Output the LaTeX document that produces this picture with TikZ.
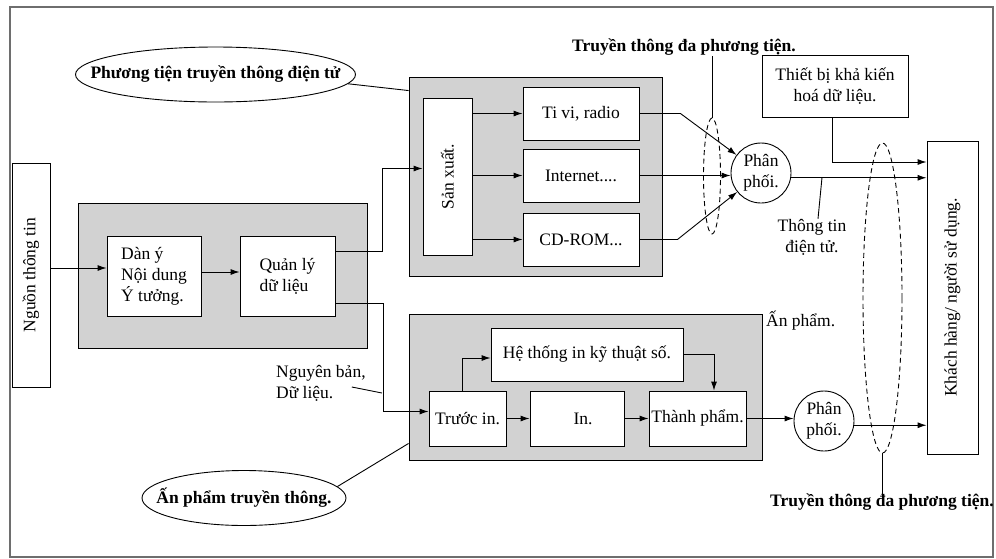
\documentclass[tikz,border=0pt]{standalone}
\usepackage{fontspec}
\setmainfont{Liberation Serif}
\usetikzlibrary{arrows.meta}
\usetikzlibrary{shapes.geometric}
\definecolor{framegray}{RGB}{110,110,110}
\definecolor{panelgray}{RGB}{210,210,210}

\begin{document}
\begin{tikzpicture}[x=1pt,y=-1pt,font=\fontsize{17.5}{21}\selectfont]
    \tikzstyle{wire}=[draw=black,line width=0.9pt,-]
    \tikzstyle{flow}=[wire,-{Latex[length=9pt,width=6pt]}]
    \tikzstyle{box}=[rectangle,draw=black,line width=0.9pt,fill=white,inner sep=0pt]
    \tikzstyle{panel}=[rectangle,draw=black,line width=0.9pt,fill=panelgray,inner sep=0pt]
    \tikzstyle{hub}=[circle,draw=black,line width=0.9pt,fill=white,minimum size=60pt,inner sep=0pt,align=center]
    \tikzstyle{tag}=[ellipse,draw=black,line width=0.9pt,fill=white,inner sep=0pt]
    \tikzstyle{group}=[ellipse,draw=black,line width=0.9pt,dash pattern=on 5pt off 3.5pt,inner sep=0pt]
    \tikzstyle{note}=[inner sep=0pt]

    \useasboundingbox (0,0) rectangle (996,558);
    \draw[line width=1.5pt,draw=framegray] (10,7) rectangle (993,557);

    % gray panels
    \node[panel,minimum width=289pt,minimum height=145pt] (prep)  at (222.5,275.5) {};
    \node[panel,minimum width=253pt,minimum height=199pt] (media) at (535.5,176.5) {};
    \node[panel,minimum width=353pt,minimum height=146pt] (print) at (585.5,387) {};

    % boxes
    \node[box,minimum width=38pt,minimum height=224pt] (nguon) at (31,275) {\rotatebox{90}{Nguồn thông tin}};
    \node[box,minimum width=94pt,minimum height=80pt,align=left] (danY)   at (154,276)   {Dàn ý\\Nội dung\\Ý tưởng.};
    \node[box,minimum width=95pt,minimum height=80pt,align=left] (quanLy) at (287.5,276) {Quản lý\\dữ liệu};

    \node[box,minimum width=49pt,minimum height=157pt]  (sanXuat)  at (447.5,176.5) {\rotatebox{90}{Sản xuất.}};
    \node[box,minimum width=116pt,minimum height=53pt]  (tivi)     at (581,113.5)   {Ti vi, radio};
    \node[box,minimum width=116pt,minimum height=53pt]  (internet) at (581,175.5)   {Internet....};
    \node[box,minimum width=116pt,minimum height=53pt]  (cdrom)    at (581,239.5)   {CD-ROM...};

    \node[hub] (phanPhoiA) at (761,173) {Phân\\phối.};
    \node[box,minimum width=146pt,minimum height=62pt,align=center] (thietBi) at (835,86) {Thiết bị khả kiến\\hoá dữ liệu.};
    \node[box,minimum width=51pt,minimum height=313pt] (khach) at (952.5,297.5) {\rotatebox{90}{Khách hàng/ người sử dụng.}};

    \node[box,minimum width=192pt,minimum height=53pt] (heThong)   at (587,354.5)   {Hệ thống in kỹ thuật số.};
    \node[box,minimum width=77pt,minimum height=55pt]  (truocIn)   at (467.5,418.5) {Trước in.};
    \node[box,minimum width=94pt,minimum height=55pt]  (inBox)     at (577,418.5)   {\hspace*{12pt}In.};
    \node[box,minimum width=97pt,minimum height=55pt]  (thanhPham) at (697.5,418.5) {Thành phẩm.};
    \node[hub] (phanPhoiB) at (824,421) {Phân\\phối.};

    % dashed groups and tags
    \node[group,minimum width=17pt,minimum height=116pt] (multiA) at (712,176) {};
    \node[group,minimum width=39pt,minimum height=310pt] (multiB) at (882.5,298) {};
    \node[note,font=\fontsize{17.5}{21}\selectfont\bfseries] (multiAText) at (684,47)  {Truyền thông đa phương tiện.};
    \node[note,font=\fontsize{17.5}{21}\selectfont\bfseries] (multiBText) at (882,502) {Truyền thông đa phương tiện.};

    \node[tag,minimum width=280pt,minimum height=55pt] (mediaTag) at (215.5,74.5) {\makebox[0pt]{\bfseries Phương tiện truyền thông điện tử}};
    \node[tag,minimum width=204pt,minimum height=55pt] (printTag) at (244,498)    {\makebox[0pt]{\bfseries Ấn phẩm truyền thông.}};

    \node[note,align=center]       (infoText)  at (812,237) {Thông tin\\điện tử.};
    \node[note,anchor=west]        (printText) at (766,321) {Ấn phẩm.};
    \node[note,anchor=west,align=left] (srcText) at (276,383) {Nguyên bản,\\Dữ liệu.};

    \coordinate (infoTip) at (822,177.5);
    \coordinate (srcTip)  at (382,393);

    % flows
    \path[flow] ([yshift=7pt]nguon.east) -- ([yshift=8pt]danY.west);
    \path[flow] ([yshift=4pt]danY.east) -- ([yshift=4pt]quanLy.west);
    \path[flow] ([yshift=25pt]quanLy.east) -- ++(47,0) |- ([yshift=8pt]sanXuat.west);
    \path[flow] ([yshift=-27pt]quanLy.east) -- ++(48,0) |- ([yshift=7pt]truocIn.west);

    \path[flow] (sanXuat.east |- tivi.west) -- (tivi.west);
    \path[flow] (sanXuat.east |- internet.west) -- (internet.west);
    \path[flow] (sanXuat.east |- cdrom.west) -- (cdrom.west);

    \path[flow] (tivi.east) -- ++(41,0) -- (phanPhoiA);
    \path[flow] (internet.east) -- (internet.east -| phanPhoiA.west);
    \path[flow] (cdrom.east) -- ++(38,0) -- (phanPhoiA);
    \path[flow] (phanPhoiA.-9) -- (phanPhoiA.-9 -| khach.west);
    \path[flow] ([xshift=-3pt]thietBi.south) |- ([yshift=135.5pt]khach.west);

    \path[flow] ([xshift=-5pt]truocIn.north) |- ([yshift=-3.5pt]heThong.west);
    \path[flow] (heThong.east) -| ([xshift=16.5pt]thanhPham.north);
    \path[flow] (truocIn.east) -- (inBox.west);
    \path[flow] (inBox.east) -- (thanhPham.west);
    \path[flow] (thanhPham.east) -- (thanhPham.east -| phanPhoiB.west);
    \path[flow] (phanPhoiB.-8) -- (phanPhoiB.-8 -| khach.west);

    % pointers
    \path[wire] (multiA.north) -- (multiA.north |- multiAText.south);
    \path[wire] (multiB.south) -- (multiB.south |- multiBText.north);
    \path[wire] (infoTip) -- ([xshift=6pt]infoText.north);
    \path[wire] ([xshift=-14pt,yshift=-4pt]srcText.east) -- (srcTip);
    \path[wire] (mediaTag.-4) -- ([yshift=-14pt]media.north west);
    \path[wire] (printTag.7) -- ([yshift=17pt]print.south west);
\end{tikzpicture}
\end{document}
